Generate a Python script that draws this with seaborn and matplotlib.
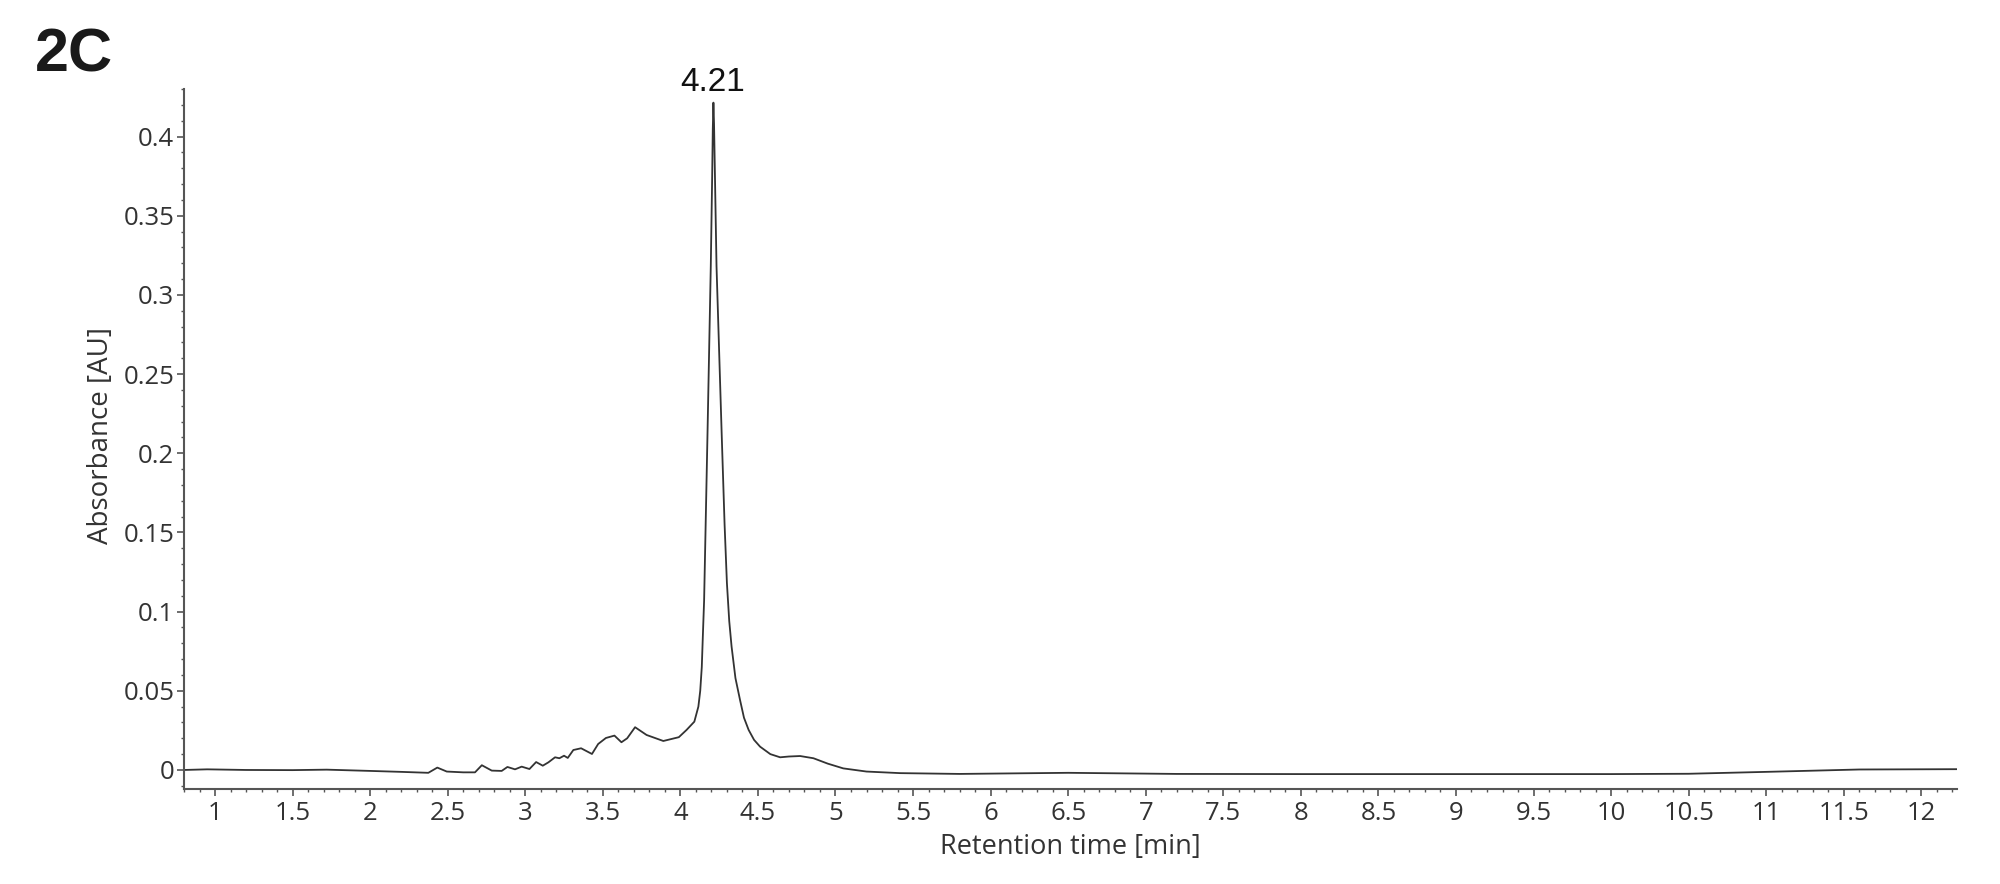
import matplotlib
matplotlib.use("Agg")
import matplotlib.pyplot as plt
import seaborn as sns
import pandas as pd
from matplotlib.ticker import MultipleLocator, FixedLocator

# chromatogram
retention_time = [0.80, 0.95, 1.20, 1.50, 1.72, 2.00, 2.20, 2.375, 2.433, 2.494,
                  2.60, 2.676, 2.72, 2.784, 2.848, 2.885, 2.934, 2.977, 3.027, 3.07,
                  3.113, 3.149, 3.192, 3.22, 3.25, 3.274, 3.31, 3.36, 3.43, 3.47,
                  3.52, 3.575, 3.62, 3.657, 3.708, 3.782, 3.89, 3.99, 4.04, 4.09,
                  4.116, 4.128, 4.138, 4.145, 4.153, 4.164, 4.175, 4.196, 4.205, 4.209,
                  4.213, 4.217, 4.222, 4.233, 4.266, 4.285, 4.30, 4.315, 4.33, 4.355,
                  4.385, 4.41, 4.44, 4.475, 4.514, 4.58, 4.643, 4.70, 4.772, 4.858,
                  4.95, 5.05, 5.20, 5.417, 5.80, 6.50, 7.20, 8.00, 9.00, 10.00,
                  10.50, 11.00, 11.60, 12.23]
absorbance = [0.0000, 0.0004, 0.0000, -0.0001, 0.0002, -0.0006, -0.0012, -0.0018, 0.0015, -0.0010,
              -0.0015, -0.0015, 0.0030, -0.0004, -0.0006, 0.0019, 0.0004, 0.0021, 0.0006, 0.0050,
              0.0027, 0.0048, 0.0080, 0.0074, 0.0090, 0.0076, 0.0126, 0.0137, 0.0101, 0.0164,
              0.0202, 0.0217, 0.0175, 0.0200, 0.0270, 0.0221, 0.0183, 0.0207, 0.0253, 0.0305,
              0.0400, 0.0500, 0.0650, 0.0850, 0.1070, 0.1600, 0.2130, 0.3180, 0.3750, 0.4050,
              0.4214, 0.4080, 0.3800, 0.3180, 0.2130, 0.1550, 0.1180, 0.0940, 0.0780, 0.0580,
              0.0440, 0.0330, 0.0253, 0.0190, 0.0147, 0.0100, 0.0080, 0.0085, 0.0088, 0.0074,
              0.0040, 0.0010, -0.0010, -0.0020, -0.0025, -0.0018, -0.0025, -0.0026, -0.0026, -0.0026,
              -0.0024, -0.0012, 0.0003, 0.0005]

x_ticks = [1, 1.5, 2, 2.5, 3, 3.5, 4, 4.5, 5, 5.5, 6, 6.5, 7, 7.5, 8, 8.5, 9, 9.5,
           10, 10.5, 11, 11.5, 12]
y_ticks = [0, 0.05, 0.1, 0.15, 0.2, 0.25, 0.3, 0.35, 0.4]
y_labels = ["0", "0.05", "0.1", "0.15", "0.2", "0.25", "0.3", "0.35", "0.4"]
peak_time = 4.21
peak_label = "4.21"

df = pd.DataFrame({"time": retention_time, "abs": absorbance})

sns.set_style("ticks")
plt.rcParams["font.family"] = ["Open Sans", "DejaVu Sans"]

fig = plt.figure(figsize=(20, 8.84), dpi=100)
ax = fig.add_axes([0.092, 0.1075, 0.8865, 0.7918])

sns.lineplot(data=df, x="time", y="abs", ax=ax, color="#333333",
             linewidth=1.3, estimator=None, sort=False)

ax.set_xlim(0.80, 12.23)
ax.set_ylim(-0.012, 0.430)

ax.xaxis.set_major_locator(FixedLocator(x_ticks))
ax.set_xticklabels([f"{t:g}" for t in x_ticks])
ax.xaxis.set_minor_locator(MultipleLocator(0.1))
ax.yaxis.set_major_locator(FixedLocator(y_ticks))
ax.set_yticklabels(y_labels)
ax.yaxis.set_minor_locator(MultipleLocator(0.01))

for side in ["top", "right"]:
    ax.spines[side].set_visible(False)
for side in ["left", "bottom"]:
    ax.spines[side].set_color("#555555")
    ax.spines[side].set_linewidth(1.5)

ax.tick_params(which="major", length=5, width=1.2, color="#555555",
               labelsize=18.5, labelcolor="#333333")
ax.tick_params(which="minor", length=2.5, width=1.0, color="#555555")
ax.tick_params(axis="x", which="major", pad=4)
ax.tick_params(axis="y", which="major", pad=2)

ax.set_xlabel("Retention time [min]", fontsize=19.5, color="#333333", labelpad=5)
ax.set_ylabel("Absorbance [AU]", fontsize=20, color="#333333")
ax.yaxis.set_label_coords(-0.039, 0.505)

ax.text(peak_time, 0.4285, peak_label, ha="center", va="baseline",
        fontsize=24, family=["Liberation Sans"], color="#111111", clip_on=False)

fig.text(0.0175, 0.9186, "2C", fontsize=44, fontweight="bold",
         family=["Liberation Sans"], color="#1a1a1a", ha="left", va="baseline")

plt.savefig("out.png", dpi=100)
